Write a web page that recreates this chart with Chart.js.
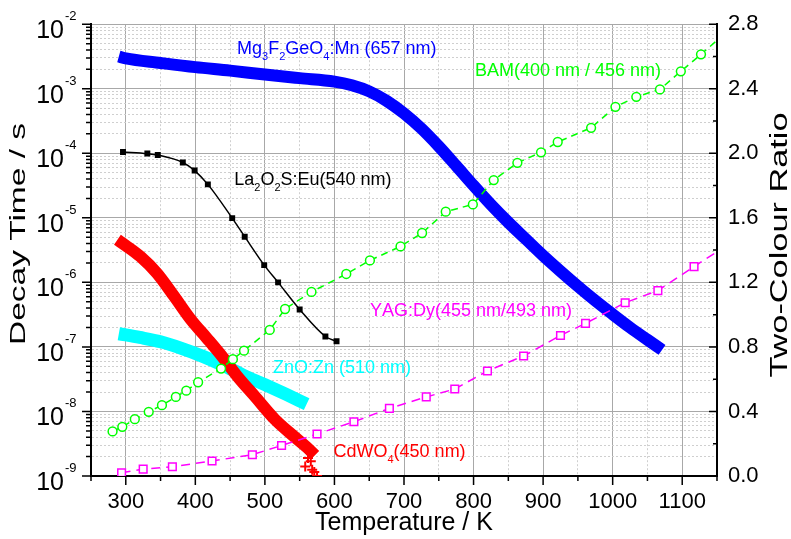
<!DOCTYPE html>
<html>
<head>
<meta charset="utf-8">
<script src="https://cdn.jsdelivr.net/npm/chart.js@4.4.1/dist/chart.umd.min.js"></script>
<style>
  body { margin: 0; background: #fff; }
  canvas { display: block; }
</style>
</head>
<body>
<canvas id="myChart" width="791" height="539"></canvas>
<script>
// decay time (s) vs temperature (K), left axis
let mgfT   = [290, 300, 350, 400, 450, 500, 550, 600, 625, 650, 675, 700, 725, 750, 775, 800, 825, 850, 875, 900, 925, 950, 975, 1000, 1025, 1050, 1071];
let mgfTau = [3.16e-3, 2.95e-3, 2.51e-3, 2.16e-3, 1.91e-3, 1.66e-3, 1.46e-3, 1.29e-3, 1.13e-3, 9.1e-4, 6.5e-4, 4.15e-4, 2.42e-4, 1.28e-4, 6.4e-5, 3.16e-5, 1.6e-5, 8.5e-6, 4.7e-6, 2.6e-6, 1.49e-6, 8.7e-7, 5.2e-7, 3.2e-7, 2.0e-7, 1.29e-7, 9.0e-8];

let laT   = [296, 331, 346, 382, 399, 418, 453, 471, 499, 519, 550, 587, 603];
let laTau = [1.05e-4, 9.9e-5, 9.4e-5, 7.2e-5, 5.4e-5, 3.3e-5, 9.9e-6, 5.1e-6, 1.85e-6, 1.0e-6, 3.8e-7, 1.45e-7, 1.22e-7];

let cdT   = [288, 300, 321, 345, 369, 393, 417, 440, 460, 485, 514, 543, 560, 572];
let cdTau = [4.57e-6, 3.72e-6, 2.51e-6, 1.38e-6, 6.2e-7, 2.7e-7, 1.35e-7, 6.8e-8, 3.55e-8, 1.74e-8, 7.6e-9, 4.0e-9, 2.8e-9, 2.1e-9];
let cdTailT   = [558, 562, 566, 568, 571, 575];
let cdTailTau = [1.4e-9, 1.9e-9, 1.7e-9, 1.25e-9, 1.15e-9, 1.0e-9];

let znT   = [290, 320, 350, 380, 410, 440, 470, 500, 530, 560];
let znTau = [1.6e-7, 1.4e-7, 1.2e-7, 9.5e-8, 7.2e-8, 5.2e-8, 3.6e-8, 2.6e-8, 1.85e-8, 1.3e-8];

// two-colour ratio vs temperature (K), right axis
let bamT = [281, 295, 313, 333, 352, 372, 387, 404, 437, 454, 470, 507, 529, 567, 617, 651, 695, 726, 760, 799, 829, 863, 897, 921, 969, 1004, 1034, 1068, 1098, 1127];
let bamR = [0.276, 0.305, 0.352, 0.398, 0.439, 0.490, 0.529, 0.581, 0.666, 0.724, 0.777, 0.905, 1.035, 1.141, 1.252, 1.336, 1.423, 1.506, 1.638, 1.683, 1.834, 1.941, 2.006, 2.07, 2.158, 2.288, 2.35, 2.396, 2.508, 2.613];
let bamEndT = [1127, 1150];
let bamEndR = [2.613, 2.70];

let yagT = [294, 325, 367, 424, 482, 524, 575, 628, 679, 732, 773, 820, 872, 925, 961, 1018, 1065, 1117];
let yagR = [0.02, 0.043, 0.057, 0.093, 0.132, 0.189, 0.26, 0.336, 0.419, 0.49, 0.539, 0.651, 0.744, 0.871, 0.946, 1.074, 1.149, 1.298];
let yagEndT = [1117, 1150];
let yagEndR = [1.298, 1.39];

// ticks
let xTickLabels = [300, 400, 500, 600, 700, 800, 900, 1000, 1100];
let decadeExps = [-9, -8, -7, -6, -5, -4, -3, -2];
let ratioTickLabels = ['0.0', '0.4', '0.8', '1.2', '1.6', '2.0', '2.4', '2.8'];

// annotations: text ('_' = next char subscript), anchor temperature, anchor decay time
let noteText = ['Mg_3F_2GeO_4:Mn (657 nm)', 'BAM(400 nm / 456 nm)', 'La_2O_2S:Eu(540 nm)', 'YAG:Dy(455 nm/493 nm)', 'ZnO:Zn (510 nm)', 'CdWO_4(450 nm)'];
let noteT    = [460, 802, 456, 651, 511.5, 598.6];
let noteTau  = [3.45e-3, 1.59e-3, 3.27e-5, 3.03e-7, 3.9e-8, 1.97e-9];
let noteColor = ['#0000ff', '#00ff00', '#000000', '#ff00ff', '#00ffff', '#ff0000'];

let FONT = '"Liberation Sans", Arial, sans-serif';
// wanted plot frame (px)
let AREA = { left: 91, right: 717, top: 17, bottom: 476 };

let pts = function (xs, ys) {
    return xs.map((x, i) => ({ x: x, y: ys[i] }));
};

let isDecade = function (v) {
    let l = Math.log10(v);
    return Math.abs(l - Math.round(l)) < 1e-6;
};

let yTickValues = [];
decadeExps.forEach(function (e, i) {
    if (i === decadeExps.length - 1) {
        yTickValues.push(Math.pow(10, e));
        return;
    }
    for (let m = 1; m <= 9; m++) yTickValues.push(m * Math.pow(10, e));
});

let drawRich = function (ctx, text, x, y, size) {
    let i = 0;
    while (i < text.length) {
        let sub = text[i] === '_';
        let ch = sub ? text[i + 1] : text[i];
        i += sub ? 2 : 1;
        ctx.font = (sub ? Math.round(size * 0.62) : size) + 'px ' + FONT;
        ctx.fillText(ch, x, sub ? y + 6 : y);
        x += ctx.measureText(ch).width;
    }
};

let decorations = {
    id: 'decorations',
    afterDraw(chart) {
        let ctx = chart.ctx;
        let area = chart.chartArea;
        let sx = chart.scales.x, sy = chart.scales.y, sy2 = chart.scales.y2;
        ctx.save();

        // tick marks
        ctx.strokeStyle = '#000';
        ctx.lineWidth = 1.5;
        ctx.beginPath();
        sx.ticks.forEach(function (t) {
            let px = sx.getPixelForValue(t.value);
            let len = t.value % 100 === 0 ? 9 : 5;
            ctx.moveTo(px, area.bottom);
            ctx.lineTo(px, area.bottom + len);
        });
        sy.ticks.forEach(function (t) {
            let py = sy.getPixelForValue(t.value);
            let len = isDecade(t.value) ? 9 : 5;
            ctx.moveTo(area.left, py);
            ctx.lineTo(area.left - len, py);
        });
        sy2.ticks.forEach(function (t) {
            let py = sy2.getPixelForValue(t.value);
            let len = Math.round(t.value * 10) % 4 === 0 ? 8 : 4;
            ctx.moveTo(area.right, py);
            ctx.lineTo(area.right - len, py);
        });
        ctx.stroke();

        // left tick labels 10^n
        ctx.fillStyle = '#000';
        ctx.textBaseline = 'alphabetic';
        decadeExps.forEach(function (e) {
            let py = sy.getPixelForValue(Math.pow(10, e));
            ctx.font = '25px ' + FONT;
            ctx.textAlign = 'right';
            ctx.fillText('10', area.left - 27, py + 14);
            ctx.font = '13px ' + FONT;
            ctx.textAlign = 'left';
            ctx.fillText(String(e), area.left - 26, py - 4);
        });

        // axis titles, stretched along their length like the original
        let vTitle = function (text, cy, baseX, size, length) {
            ctx.save();
            ctx.font = size + 'px ' + FONT;
            let w = ctx.measureText(text).width;
            ctx.translate(baseX, cy);
            ctx.rotate(-Math.PI / 2);
            ctx.scale(length / w, 1);
            ctx.textAlign = 'center';
            ctx.textBaseline = 'alphabetic';
            ctx.fillText(text, 0, 0);
            ctx.restore();
        };
        vTitle('Decay Time / s', 234, 25, 22, 222);
        vTitle('Two-Colour Ratio', 245, 787, 23, 265);

        // curve annotations
        ctx.textAlign = 'left';
        noteText.forEach(function (txt, i) {
            ctx.fillStyle = noteColor[i];
            drawRich(ctx, txt, sx.getPixelForValue(noteT[i]), sy.getPixelForValue(noteTau[i]), 18);
        });
        ctx.restore();
    }
};

let band = function (label, xs, ys, color, width) {
    return {
        label: label, data: pts(xs, ys), yAxisID: 'y', showLine: true,
        borderColor: color, backgroundColor: color, borderWidth: width,
        pointRadius: 0, cubicInterpolationMode: 'monotone', borderCapStyle: 'butt'
    };
};

let dashedEnd = function (label, xs, ys, color, dash) {
    return {
        label: label, data: pts(xs, ys), yAxisID: 'y2', showLine: true,
        borderColor: color, borderWidth: 1.5, borderDash: dash, pointRadius: 0
    };
};

let canvas = document.getElementById('myChart');
let chart = new Chart(canvas, {
    type: 'scatter',
    data: {
        datasets: [
            {
                label: 'La2O2S:Eu', data: pts(laT, laTau), yAxisID: 'y', showLine: true,
                borderColor: '#000', backgroundColor: '#000', borderWidth: 1.5,
                pointStyle: 'rect', pointRadius: 4.2, pointBorderWidth: 0,
                cubicInterpolationMode: 'monotone'
            },
            {
                label: 'BAM', data: pts(bamT, bamR), yAxisID: 'y2', showLine: true,
                borderColor: '#00ff00', backgroundColor: '#fff', borderWidth: 1.5, borderDash: [7, 5],
                pointStyle: 'circle', pointRadius: 4.4, pointBorderWidth: 1.5,
                pointBorderColor: '#00ff00', pointBackgroundColor: '#fff'
            },
            dashedEnd('BAM end', bamEndT, bamEndR, '#00ff00', [7, 5]),
            {
                label: 'YAG:Dy', data: pts(yagT, yagR), yAxisID: 'y2', showLine: true,
                borderColor: '#ff00ff', backgroundColor: '#fff', borderWidth: 1.5, borderDash: [9, 6],
                pointStyle: 'rect', pointRadius: 5.4, pointBorderWidth: 1.5,
                pointBorderColor: '#ff00ff', pointBackgroundColor: '#fff'
            },
            dashedEnd('YAG end', yagEndT, yagEndR, '#ff00ff', [9, 6]),
            {
                label: 'CdWO4 tail', data: pts(cdTailT, cdTailTau), yAxisID: 'y', showLine: false,
                pointStyle: 'cross', pointRadius: 5, pointBorderWidth: 2,
                borderColor: '#ff0000', backgroundColor: '#ff0000'
            },
            band('CdWO4', cdT, cdTau, '#ff0000', 12),
            band('ZnO:Zn', znT, znTau, '#00ffff', 13),
            band('Mg3F2GeO4:Mn', mgfT, mgfTau, '#0000ff', 12)
        ]
    },
    options: {
        responsive: false,
        animation: false,
        devicePixelRatio: 1,
        layout: { padding: { top: AREA.top, left: 0, right: 0, bottom: 0 } },
        plugins: { legend: { display: false }, tooltip: { enabled: false } },
        scales: {
            x: {
                type: 'linear', position: 'bottom', min: 250, max: 1150,
                afterFit: function (s) { s.height = 539 - AREA.bottom; },
                ticks: {
                    stepSize: 50, autoSkip: false, maxRotation: 0, minRotation: 0, padding: 13,
                    color: '#000', font: { family: FONT, size: 22 },
                    callback: function (v) { return xTickLabels.includes(v) ? String(v) : ''; }
                },
                grid: {
                    drawTicks: false,
                    color: function (c) { return c.tick && c.tick.value % 100 === 0 ? '#a8a8a8' : '#cfcfcf'; },
                    lineWidth: 1
                },
                border: {
                    display: true, color: '#000', width: 2,
                    dash: function (c) { return c.tick && c.tick.value % 100 !== 0 ? [2, 2] : []; }
                },
                title: {
                    display: true, text: 'Temperature / K', color: '#000',
                    font: { family: FONT, size: 25, lineHeight: 1.2 }, padding: { top: 0, bottom: 1 }
                }
            },
            y: {
                type: 'logarithmic', position: 'left', min: 1e-9, max: 1e-2,
                afterBuildTicks: function (s) { s.ticks = yTickValues.map(v => ({ value: v })); },
                afterFit: function (s) { s.width = AREA.left; },
                ticks: { display: false },
                grid: {
                    drawTicks: false,
                    color: function (c) { return c.tick && isDecade(c.tick.value) ? '#a8a8a8' : '#cfcfcf'; },
                    lineWidth: 1
                },
                border: {
                    display: true, color: '#000', width: 2,
                    dash: function (c) { return c.tick && !isDecade(c.tick.value) ? [2, 2] : []; }
                },
                title: { display: false }
            },
            y2: {
                type: 'linear', position: 'right', min: 0, max: 2.8,
                afterFit: function (s) { s.width = 791 - AREA.right; },
                ticks: {
                    stepSize: 0.2, autoSkip: false, padding: 11, color: '#000',
                    font: { family: FONT, size: 22 },
                    callback: function (v) {
                        let lbl = v.toFixed(1);
                        return ratioTickLabels.includes(lbl) ? lbl : '';
                    }
                },
                grid: { drawOnChartArea: false, drawTicks: false },
                border: { display: true, color: '#000', width: 2 },
                title: { display: false }
            }
        }
    },
    plugins: [decorations]
});

// the layout adds its own label padding; pull the frame back to the wanted box
let pad = chart.options.layout.padding;
let ca = chart.chartArea;
pad.top -= ca.top - AREA.top;
pad.left -= ca.left - AREA.left;
pad.right -= AREA.right - ca.right;
pad.bottom -= AREA.bottom - ca.bottom;
chart.update();
</script>
</body>
</html>
